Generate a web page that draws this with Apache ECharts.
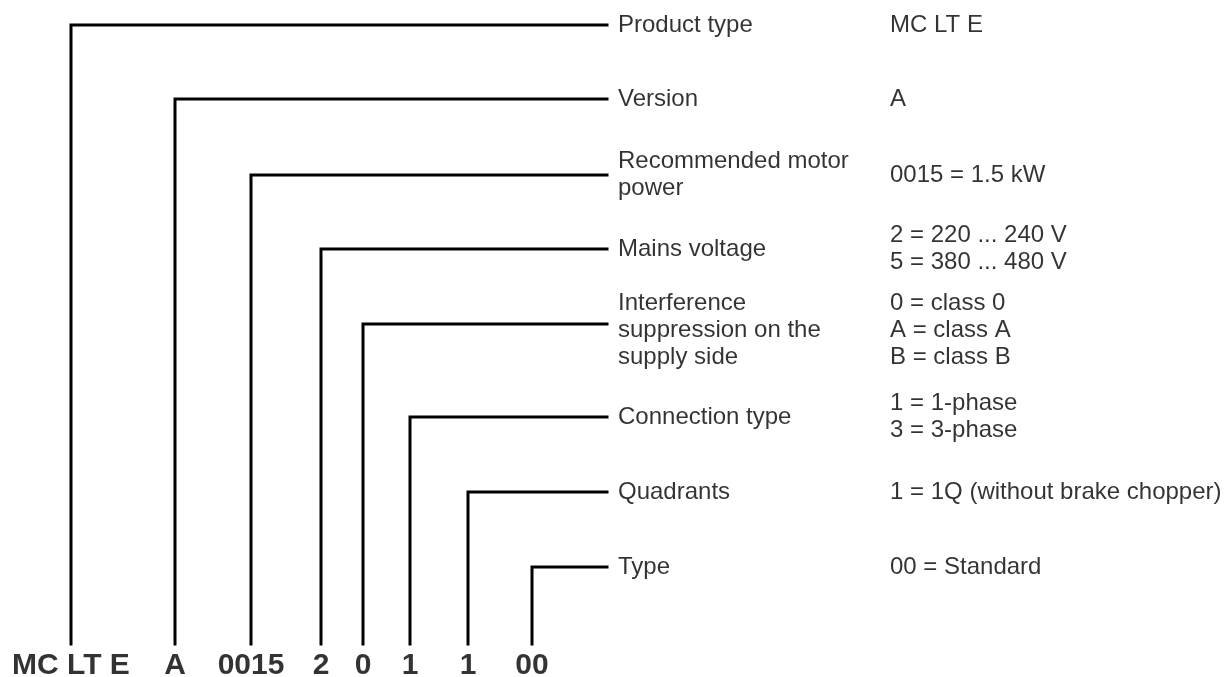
<!DOCTYPE html>
<html>
<head>
<meta charset="utf-8">
<script src="https://cdn.jsdelivr.net/npm/echarts@6/dist/echarts.min.js"></script>
<style>
html, body { margin: 0; padding: 0; background: #fff; }
#chartArea { width: 1226px; height: 677px; }
</style>
</head>
<body>
<div id="chartArea"></div>
<script>
// type code parts, left to right
var codeParts = ['MC LT E', 'A', '0015', '2', '0', '1', '1', '00'];
// field description for each part
var fieldNames = [
    'Product type',
    'Version',
    'Recommended motor\npower',
    'Mains voltage',
    'Interference\nsuppression on the\nsupply side',
    'Connection type',
    'Quadrants',
    'Type'
];
// meaning of the value in each part
var fieldValues = [
    'MC LT E',
    'A',
    '0015 = 1.5 kW',
    '2 = 220 ... 240 V\n5 = 380 ... 480 V',
    '0 = class 0\nA = class A\nB = class B',
    '1 = 1-phase\n3 = 3-phase',
    '1 = 1Q (without brake chopper)',
    '00 = Standard'
];

// layout (axis units = pixels)
var partX = [71, 175, 251, 321, 363, 410, 468, 532];
var rowY = [25, 99, 175, 249, 324, 417, 492, 567];
var textShift = [0, 0, 0, 0, 6, 0, 0, 0];
var lineEndX = 607;
var labelX = 618;
var valueX = 890;
var codeY = 666;
var lineBottomY = 644;

var chartDom = document.getElementById('chartArea');
var myChart = echarts.init(chartDom);
var option;

var font = "'Liberation Sans', Arial, sans-serif";
var series = [];

for (var i = 0; i < codeParts.length; i++) {
    series.push({
        type: 'line',
        data: [[partX[i], lineBottomY], [partX[i], rowY[i]], [lineEndX, rowY[i]]],
        symbol: 'none',
        silent: true,
        animation: false,
        lineStyle: { color: '#000', width: 3, cap: 'square', join: 'miter' }
    });
}

var textStyle = {
    show: true,
    position: 'right',
    distance: 0,
    color: '#000',
    fontFamily: font,
    fontSize: 24,
    lineHeight: 27
};

series.push({
    type: 'scatter',
    symbolSize: 0,
    animation: false,
    data: fieldNames.map(function (n, i) { return { value: [labelX, rowY[i] + textShift[i]], name: n }; }),
    label: Object.assign({}, textStyle, { formatter: function (p) { return p.name; } })
});

series.push({
    type: 'scatter',
    symbolSize: 0,
    animation: false,
    data: fieldValues.map(function (n, i) { return { value: [valueX, rowY[i] + textShift[i]], name: n }; }),
    label: Object.assign({}, textStyle, { formatter: function (p) { return p.name; } })
});

series.push({
    type: 'scatter',
    symbolSize: 0,
    animation: false,
    data: codeParts.map(function (n, i) { return { value: [partX[i], codeY], name: n }; }),
    label: {
        show: true,
        position: 'inside',
        color: '#000',
        fontFamily: font,
        fontSize: 30,
        fontWeight: 'bold',
        formatter: function (p) { return p.name; }
    }
});

option = {
    backgroundColor: '#fff',
    grid: { left: 0, right: 0, top: 0, bottom: 0 },
    xAxis: { type: 'value', min: 0, max: 1226, show: false },
    yAxis: { type: 'value', min: 0, max: 677, inverse: true, show: false },
    series: series
};

option && myChart.setOption(option);
</script>
</body>
</html>
